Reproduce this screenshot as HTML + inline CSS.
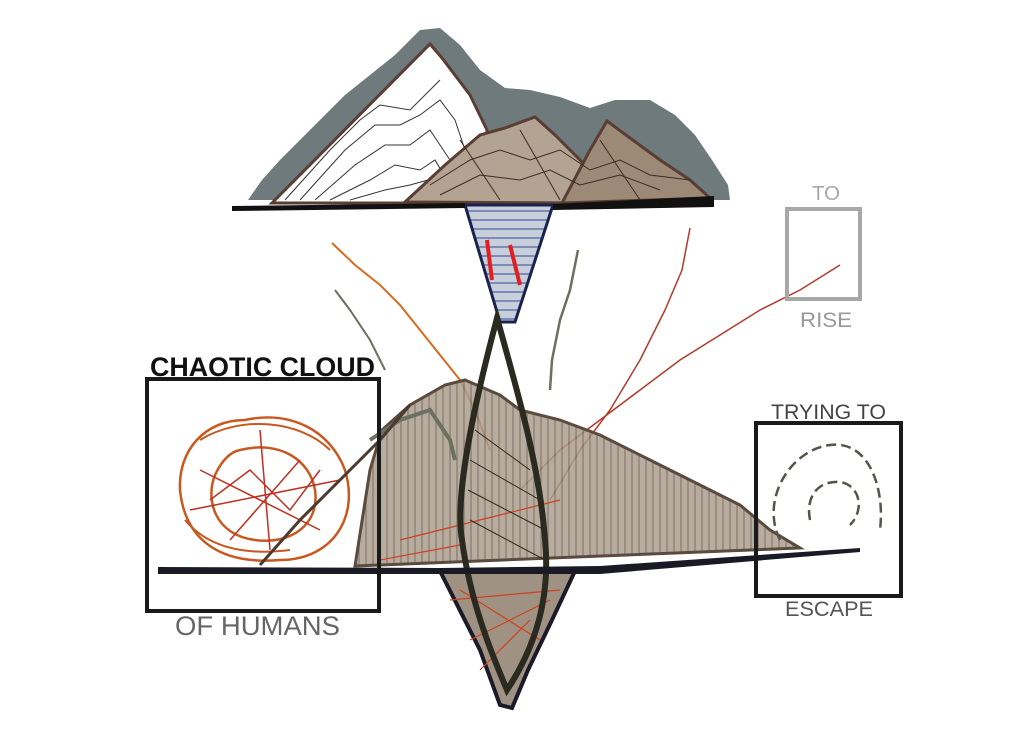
<!DOCTYPE html>
<html><head><meta charset="utf-8"><style>
html,body{margin:0;padding:0;background:#fff;}
svg{display:block}
text{font-family:"Liberation Sans",sans-serif;}
</style></head><body>
<svg width="1024" height="745" viewBox="0 0 1024 745" xmlns="http://www.w3.org/2000/svg">
<defs>
<pattern id="vh" width="7" height="10" patternUnits="userSpaceOnUse"><rect width="7" height="10" fill="#aa9d8d"/><line x1="2" y1="0" x2="2" y2="10" stroke="#75675a" stroke-width="1.3"/></pattern>
<pattern id="bl" width="10" height="9" patternUnits="userSpaceOnUse"><rect width="10" height="9" fill="#c9cedb"/><line x1="0" y1="4" x2="10" y2="4" stroke="#2a4a9a" stroke-width="1"/></pattern>
</defs>
<path d="M248,200 L262,180 L280,160 L300,140 L320,120 L345,95 L370,75 L395,55 L420,30 L440,28 L460,45 L480,70 L505,88 L530,90 L560,97 L590,108 L615,100 L650,100 L675,115 L695,135 L712,160 L728,185 L730,200 Z" fill="#6e7a7c"/>
<path d="M272,203 L430,44 L442,58 L470,95 L487,130 L480,203 Z" fill="#fff" stroke="#5a3e34" stroke-width="3"/>
<g fill="none" stroke="#333" stroke-width="1">
<path d="M285,200 L330,150 L360,120 L380,105 L410,110 L440,80"/>
<path d="M300,200 L345,150 L375,125 L400,125 L420,115 L440,100 L455,120 L465,150"/>
<path d="M315,200 L355,165 L385,145 L410,145 L430,130 L450,160"/>
<path d="M330,200 L370,180 L395,165 L420,170 L435,160 L450,185"/>
<path d="M350,200 L385,190 L410,185 L428,180 L438,195"/>
</g>
<path d="M405,202 L445,165 L480,135 L505,128 L535,117 L555,135 L585,165 L580,203 Z" fill="#b3a393" stroke="#5a3e34" stroke-width="3"/>
<path d="M562,203 L590,150 L607,121 L630,138 L660,160 L690,180 L710,198 Z" fill="#9c8a77" stroke="#5a3e34" stroke-width="3"/>
<g fill="none" stroke="#3a2c24" stroke-width="1">
<path d="M430,185 L470,160 L500,150 L530,160 L560,150 L590,170 L620,160 L650,175 L690,180"/>
<path d="M440,195 L480,175 L520,180 L550,170 L580,185 L620,175 L660,190"/>
<path d="M460,140 L500,200"/><path d="M520,130 L560,200"/><path d="M600,140 L640,200"/>
</g>
<path d="M465,205 L553,205 L515,322 L500,322 Z" fill="url(#bl)" stroke="#1a2250" stroke-width="3"/>
<path d="M487,240 L492,280" stroke="#e02020" stroke-width="4"/><path d="M510,245 L520,285" stroke="#e02020" stroke-width="4"/>
<path d="M232,206 L465,203 L465,208 L232,211 Z" fill="#111"/>
<path d="M553,204 L714,196 L714,207 L553,210 Z" fill="#111"/>
<g fill="none" stroke-width="2">
<path d="M332,243 L355,265 L380,285 L400,305 L420,330 L440,355 L460,380 L475,410 L490,450" stroke="#d96a1e"/>
<path d="M690,228 L682,270 L665,310 L640,360 L610,410 L580,450 L550,500" stroke="#b33a2a" stroke-width="1.5"/>
<path d="M840,265 L800,290 L760,310 L720,335 L680,360 L640,390 L600,420 L560,450 L520,490" stroke="#b33a2a" stroke-width="1.5"/>
<path d="M578,250 L570,290 L560,320 L552,360 L550,390" stroke="#6c7060" stroke-width="2.5"/>
<path d="M335,290 L350,310 L370,340 L385,370" stroke="#6c7060" stroke-width="2"/>
</g>
<path d="M355,566 L370,470 L382,430 L410,405 L445,385 L465,380 L500,395 L520,410 L560,420 L600,435 L650,460 L700,485 L740,505 L770,530 L800,548 Z" fill="url(#vh)" fill-opacity="0.85" stroke="#5b4a3e" stroke-width="3"/>
<path d="M370,440 L400,420 L430,410 L450,440 L455,460" fill="none" stroke="#6c7060" stroke-width="4"/>
<path d="M440,571 L575,571 L552,620 L528,670 L512,708 L500,705 L480,650 Z" fill="#a09282" stroke="#1a1a28" stroke-width="4"/>
<g fill="none" stroke="#d04020" stroke-width="1.2">
<path d="M460,590 L540,640"/><path d="M450,600 L560,590"/><path d="M470,640 L550,600"/><path d="M480,670 L530,620"/>
<path d="M400,540 L480,520 L560,500"/><path d="M380,560 L460,545"/>
</g>
<path d="M497,318 C470,420 455,500 462,540 C470,600 490,650 507,690 C540,640 550,590 545,540 C540,470 520,400 497,318 Z" fill="none" stroke="#2a2a20" stroke-width="6"/>
<g stroke="#2a2a20" stroke-width="1">
<path d="M475,430 L530,470"/><path d="M470,460 L540,500"/><path d="M468,490 L545,530"/><path d="M470,520 L545,560"/>
</g>
<path d="M158,567 L440,568 L600,566 L860,548 L860,552 L600,574 L440,574 L158,574 Z" fill="#1a1a24"/>
<g fill="none" stroke="#c8581e" stroke-width="2.5">
<path d="M245,420 C290,410 330,430 345,470 C360,520 330,560 280,560 C220,565 185,540 180,490 C178,450 205,420 245,420 Z"/>
<path d="M240,450 C280,440 310,460 315,490 C320,525 290,545 255,540 C215,535 205,500 215,475 C222,460 230,452 240,450 Z"/>
<path d="M200,440 C240,415 300,420 330,450" stroke-width="2"/>
<path d="M185,520 C210,550 250,555 290,550" stroke-width="2"/>
</g>
<g fill="none" stroke="#c03020" stroke-width="1.5">
<path d="M200,470 L320,530"/><path d="M230,540 L300,460"/><path d="M190,510 L340,480"/><path d="M260,430 L270,550"/>
<path d="M210,500 L250,470 L290,510 L320,470"/>
</g>
<path d="M260,565 L300,520 L340,480 L380,440 L410,405" fill="none" stroke="#4a3a30" stroke-width="3"/>
<g fill="none" stroke="#50564a" stroke-width="2.5" stroke-dasharray="10 5">
<path d="M780,540 C760,500 790,450 830,445 C870,440 885,490 880,530"/>
<path d="M810,520 C805,495 820,480 840,482 C860,485 865,510 850,525"/>
</g>
<rect x="147" y="379" width="232" height="232" fill="none" stroke="#1a1a1a" stroke-width="4"/>
<rect x="756" y="423" width="145" height="173" fill="none" stroke="#1a1a1a" stroke-width="4"/>
<rect x="787" y="209" width="73" height="90" fill="none" stroke="#a8a8a8" stroke-width="4"/>
<text x="150" y="376" font-size="27" font-weight="bold" fill="#111" textLength="225" lengthAdjust="spacingAndGlyphs">CHAOTIC CLOUD</text>
<text x="175" y="635" font-size="27" fill="#666" textLength="165" lengthAdjust="spacingAndGlyphs">OF HUMANS</text>
<text x="771" y="419" font-size="21" fill="#444" textLength="115" lengthAdjust="spacingAndGlyphs">TRYING TO</text>
<text x="785" y="616" font-size="21" fill="#555" textLength="88" lengthAdjust="spacingAndGlyphs">ESCAPE</text>
<text x="812" y="200" font-size="20" fill="#a8a8a8" textLength="28" lengthAdjust="spacingAndGlyphs">TO</text>
<text x="800" y="327" font-size="21" fill="#999" textLength="52" lengthAdjust="spacingAndGlyphs">RISE</text>
</svg>
</body></html>
